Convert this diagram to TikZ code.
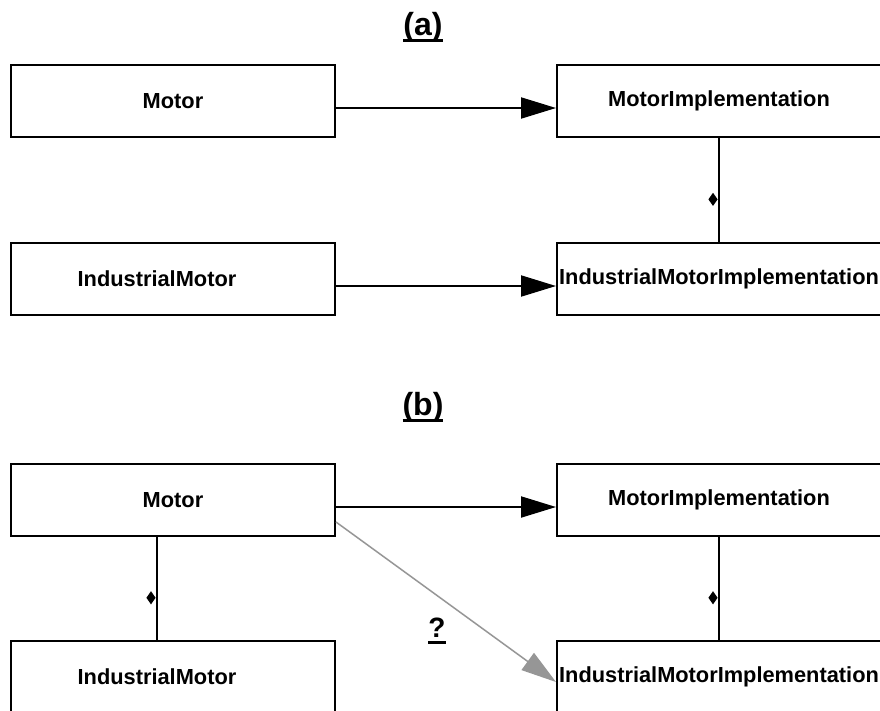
\documentclass[tikz,border=0pt]{standalone}
\usepackage{fontspec}
\setmainfont{Liberation Sans}
\usetikzlibrary{arrows.meta,shapes.geometric}
\definecolor{arrowgray}{RGB}{150,150,150}
\newcommand\capline[1]{\setbox0\hbox{#1}\rlap{\vrule height -4pt depth 7pt width \wd0}\box0}

\begin{document}
\begin{tikzpicture}[x=1pt,y=-1pt,
  box/.style={draw,line width=2pt,minimum width=324pt,minimum height=72pt,
    inner sep=0pt,font=\fontsize{21.8}{26}\selectfont\bfseries},
  boxlabel/.style={font=\fontsize{21.8}{26}\selectfont\bfseries},
  caption/.style={anchor=base,font=\fontsize{32}{38}\selectfont\bfseries},
  conn/.style={line width=2pt,-{Triangle[length=35pt,width=21pt]}},
  maybe/.style={line width=1.5pt,draw=arrowgray,
    -{Triangle[length=35pt,width=21pt,fill=arrowgray]}},
  part/.style={line width=2pt},
  dia/.style={diamond,fill,inner sep=0pt,minimum width=10pt,
    minimum height=14pt,anchor=east}]
  \useasboundingbox (0,0) rectangle (880,710);

  \node[caption] (capa) at (423,35) {\capline{(a)}};
  \node[box] (motora) at (173,101) {Motor};
  \node[box] (impla) at (719,101) {MotorImplementation};
  \node[box,label={[boxlabel,xshift=-16pt]center:IndustrialMotor}] (indmotora) at (173,279) {};
  \node[box] (indimpla) at (719,279) {IndustrialMotorImplementation};
  \draw[conn] ([yshift=-7pt]motora.east) -- ([yshift=-7pt]impla.west);
  \draw[conn] ([yshift=-7pt]indmotora.east) -- ([yshift=-7pt]indimpla.west);
  \draw[part] (impla) -- node[dia,pos=0.59] {} (indimpla);

  \node[caption] (capb) at (423,415) {\capline{(b)}};
  \node[box] (motorb) at (173,500) {Motor};
  \node[box] (implb) at (719,500) {MotorImplementation};
  \node[box,label={[boxlabel,xshift=-16pt]center:IndustrialMotor}] (indmotorb) at (173,677) {};
  \node[box] (indimplb) at (719,677) {IndustrialMotorImplementation};
  \draw[conn] ([yshift=-7pt]motorb.east) -- ([yshift=-7pt]implb.west);
  \draw[part] (implb) -- node[dia,pos=0.59] {} (indimplb);
  \draw[part] ([xshift=-16pt]motorb.south) -- node[dia,pos=0.59] {} ([xshift=-16pt]indmotorb.north);
  \draw[maybe] ([yshift=-22pt]motorb.east) -- ([yshift=-5pt]indimplb.west);
  \node[caption,font=\fontsize{28}{34}\selectfont\bfseries] (quest) at (437,637) {\capline{?}};
\end{tikzpicture}
\end{document}
